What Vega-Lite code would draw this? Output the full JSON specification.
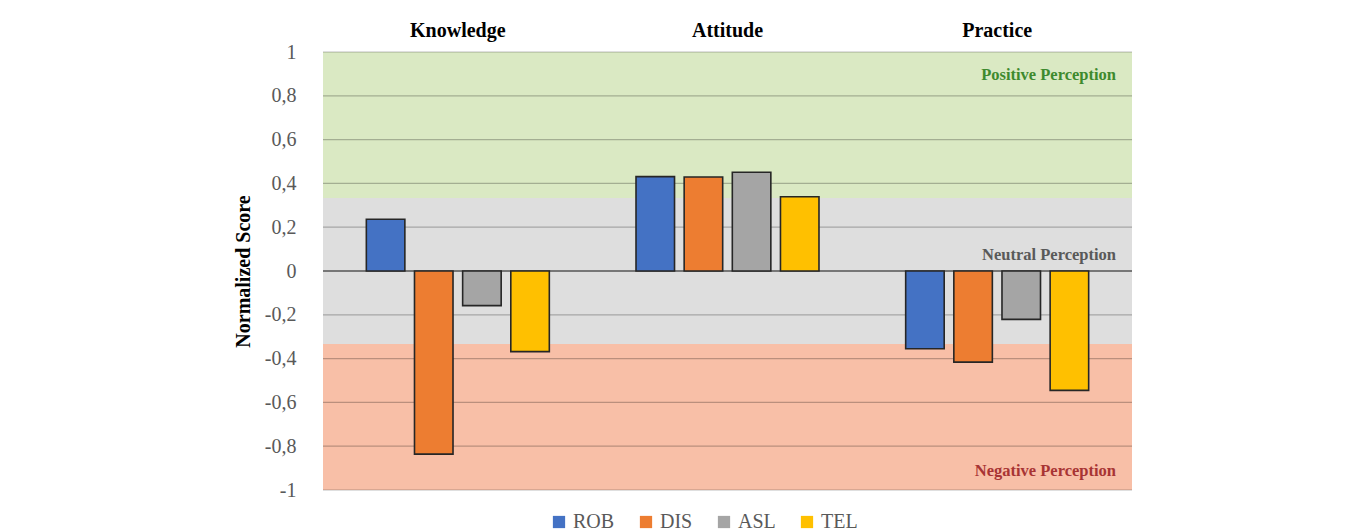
{
  "$schema": "https://vega.github.io/schema/vega-lite/v6.json",
  "autosize": "none",
  "width": 809,
  "height": 438,
  "padding": {"left": 323, "top": 52, "right": 228, "bottom": 42},
  "background": "white",
  "config": {
    "view": {"stroke": null},
    "font": "Liberation Serif"
  },
  "resolve": {"scale": {"color": "independent"}},
  "datasets": {
    "scores": [
      {"cat": "Knowledge", "series": "ROB", "score": 0.236},
      {"cat": "Knowledge", "series": "DIS", "score": -0.836},
      {"cat": "Knowledge", "series": "ASL", "score": -0.158},
      {"cat": "Knowledge", "series": "TEL", "score": -0.368},
      {"cat": "Attitude", "series": "ROB", "score": 0.431},
      {"cat": "Attitude", "series": "DIS", "score": 0.429},
      {"cat": "Attitude", "series": "ASL", "score": 0.451},
      {"cat": "Attitude", "series": "TEL", "score": 0.339},
      {"cat": "Practice", "series": "ROB", "score": -0.355},
      {"cat": "Practice", "series": "DIS", "score": -0.416},
      {"cat": "Practice", "series": "ASL", "score": -0.221},
      {"cat": "Practice", "series": "TEL", "score": -0.545}
    ],
    "bands": [
      {"zone": "Positive", "lo": 0.3333, "hi": 1, "color": "#DAE9C3", "label": "Positive Perception", "labelY": 0.895, "labelColor": "#3E8A2E"},
      {"zone": "Neutral", "lo": -0.3333, "hi": 0.3333, "color": "#DEDEDE", "label": "Neutral Perception", "labelY": 0.073, "labelColor": "#595959"},
      {"zone": "Negative", "lo": -1, "hi": -0.3333, "color": "#F8BFA7", "label": "Negative Perception", "labelY": -0.913, "labelColor": "#A83434"}
    ],
    "grid": [
      {"v": -1}, {"v": -0.8}, {"v": -0.6}, {"v": -0.4}, {"v": -0.2},
      {"v": 0.2}, {"v": 0.4}, {"v": 0.6}, {"v": 0.8}, {"v": 1}
    ]
  },
  "layer": [
    {
      "data": {"name": "bands"},
      "mark": {"type": "rect"},
      "encoding": {
        "y": {"field": "lo", "type": "quantitative"},
        "y2": {"field": "hi"},
        "color": {"field": "color", "type": "nominal", "scale": null, "legend": null}
      }
    },
    {
      "data": {"name": "grid"},
      "mark": {"type": "rule", "color": "#000000", "opacity": 0.25, "strokeWidth": 1.2},
      "encoding": {
        "y": {"field": "v", "type": "quantitative"}
      }
    },
    {
      "data": {"values": [{"v": 0}]},
      "mark": {"type": "rule", "color": "#555555", "strokeWidth": 1.3},
      "encoding": {
        "y": {"field": "v", "type": "quantitative"}
      }
    },
    {
      "data": {"name": "scores"},
      "mark": {"type": "bar", "stroke": "#262626", "strokeWidth": 1.6},
      "encoding": {
        "x": {
          "field": "cat", "type": "nominal",
          "sort": ["Knowledge", "Attitude", "Practice"],
          "scale": {"paddingInner": 0, "paddingOuter": 0},
          "axis": {
            "orient": "top", "title": null, "domain": false, "ticks": false,
            "labelAngle": 0, "labelFont": "Liberation Serif", "labelFontWeight": "bold",
            "labelFontSize": 20, "labelColor": "#000000", "labelPadding": 12
          }
        },
        "xOffset": {
          "field": "series", "type": "nominal",
          "sort": ["ROB", "DIS", "ASL", "TEL"],
          "scale": {"paddingInner": 0.2, "paddingOuter": 0.9}
        },
        "y": {
          "field": "score", "type": "quantitative",
          "scale": {"domain": [-1, 1], "nice": false},
          "axis": {
            "title": "Normalized Score",
            "titleFont": "Liberation Serif", "titleFontSize": 20, "titleFontWeight": "bold",
            "titleColor": "#000000", "titlePadding": 11,
            "values": [-1, -0.8, -0.6, -0.4, -0.2, 0, 0.2, 0.4, 0.6, 0.8, 1],
            "labelExpr": "replace(toString(datum.value), '.', ',')",
            "labelFont": "Liberation Serif", "labelFontSize": 20, "labelColor": "#595959",
            "labelPadding": 27, "domain": false, "ticks": false, "grid": false
          }
        },
        "color": {
          "field": "series", "type": "nominal",
          "sort": ["ROB", "DIS", "ASL", "TEL"],
          "scale": {"domain": ["ROB", "DIS", "ASL", "TEL"], "range": ["#4472C4", "#ED7D31", "#A5A5A5", "#FFC000"]},
          "legend": {
            "title": null, "orient": "none", "direction": "horizontal",
            "legendX": 226, "legendY": 460,
            "symbolType": "square", "symbolSize": 150, "symbolStrokeWidth": 0,
            "labelFont": "Liberation Serif", "labelFontSize": 20, "labelColor": "#595959",
            "columnPadding": 21, "labelOffset": 4
          }
        }
      }
    },
    {
      "data": {"name": "bands"},
      "mark": {"type": "text", "align": "right", "baseline": "middle", "dx": -16, "font": "Liberation Serif", "fontWeight": "bold", "fontSize": 16.5},
      "encoding": {
        "x": {"datum": "Practice", "type": "nominal", "bandPosition": 1},
        "y": {"field": "labelY", "type": "quantitative"},
        "text": {"field": "label"},
        "color": {"field": "labelColor", "type": "nominal", "scale": null, "legend": null}
      }
    }
  ]
}
